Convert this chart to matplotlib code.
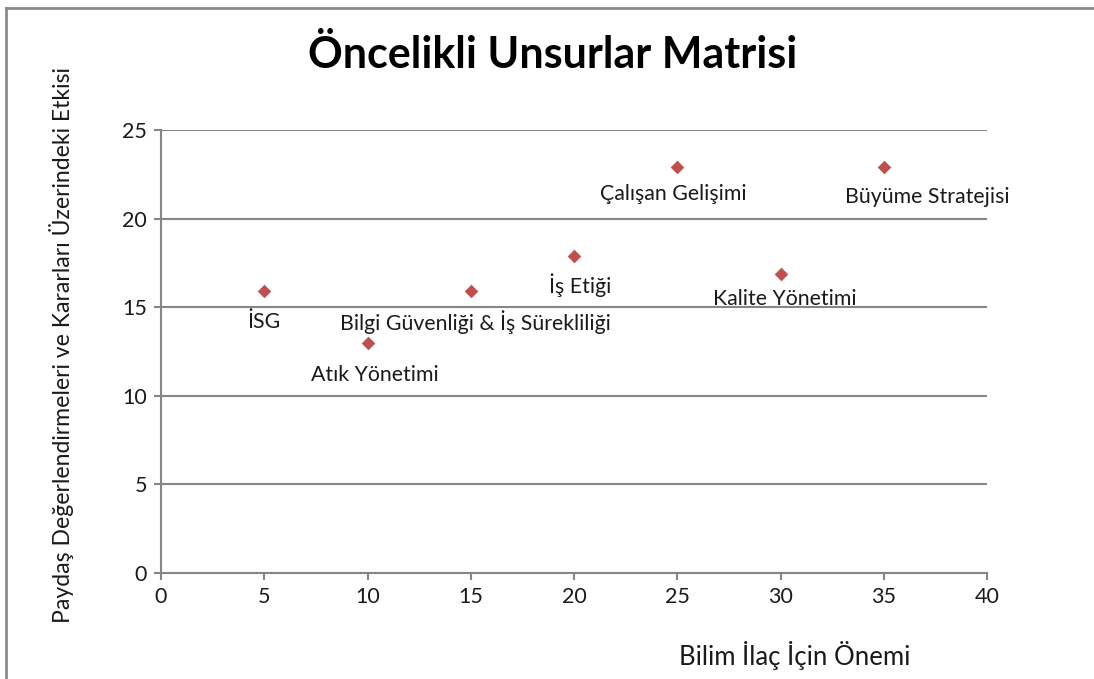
import matplotlib
matplotlib.use("Agg")
import matplotlib.pyplot as plt
from matplotlib.lines import Line2D
from matplotlib import font_manager

# Veriler
unsurlar = ["İSG", "Atık Yönetimi", "Bilgi Güvenliği & İş Sürekliliği", "İş Etiği",
            "Çalışan Gelişimi", "Büyüme Stratejisi", "Kalite Yönetimi"]
onem = [5, 10, 15, 20, 25, 35, 30]
etki = [15.9, 13, 15.9, 17.9, 22.9, 22.9, 16.9]

x_ticks = [0, 5, 10, 15, 20, 25, 30, 35, 40]
y_ticks = [0, 5, 10, 15, 20, 25]

baslik = "Öncelikli Unsurlar Matrisi"
x_etiket = "Bilim İlaç İçin Önemi"
y_etiket = "Paydaş Değerlendirmeleri ve Kararları Üzerindeki Etkisi"

# etiket kaydırmaları (piksel)
kaydirma = {
    "İSG": (0, -31),
    "Atık Yönetimi": (7, -32),
    "Bilgi Güvenliği & İş Sürekliliği": (5, -31),
    "İş Etiği": (6, -29),
    "Çalışan Gelişimi": (-4, -27),
    "Büyüme Stratejisi": (44, -30),
    "Kalite Yönetimi": (4, -25),
}

installed = {f.name for f in font_manager.fontManager.ttflist}
ana_font = "Lato" if "Lato" in installed else "DejaVu Sans"
plt.rcParams["font.family"] = [ana_font, "DejaVu Sans"]

gri = "#868686"
fig = plt.figure(figsize=(10.94, 6.79), dpi=100)
ax = fig.add_axes([161 / 1094, 1 - 573 / 679, (987 - 161) / 1094, (573 - 130) / 679])

ax.scatter(onem, etki, marker="D", s=48, color="#C0504D", zorder=3, linewidths=0)
for ad, x, y in zip(unsurlar, onem, etki):
    ax.annotate(ad, (x, y), xytext=kaydirma[ad], textcoords="offset pixels",
                ha="center", va="center", fontsize=15.3, color="#1a1a1a")

ax.set_xlim(0, 40)
ax.set_ylim(0, 25)
ax.set_xticks(x_ticks)
ax.set_yticks(y_ticks)
ax.tick_params(axis="both", direction="out", length=5, width=1.5, color=gri,
               labelsize=15.5, labelcolor="#1a1a1a", pad=5)
ax.yaxis.grid(True, color=gri, linewidth=1.5)
ax.set_axisbelow(True)
for s in ["top", "right"]:
    ax.spines[s].set_visible(False)
for s in ["left", "bottom"]:
    ax.spines[s].set_color(gri)
    ax.spines[s].set_linewidth(1.5)

fig.text(553 / 1094, 1 - 55 / 679, baslik, ha="center", va="center",
         fontsize=31, fontweight="bold", color="black")
fig.text(795 / 1094, 1 - 655 / 679, x_etiket, ha="center", va="center",
         fontsize=18.5, color="#1a1a1a")
fig.text(62 / 1094, 1 - 345 / 679, y_etiket, ha="center", va="center",
         rotation=90, fontsize=16.6, color="#1a1a1a")

# dış çerçeve (üst ve sol kenar)
cizgi = dict(transform=fig.transFigure, color="#8c8c8c", linewidth=2)
fig.lines.append(Line2D([6 / 1094, 1], [1 - 8 / 679, 1 - 8 / 679], **cizgi))
fig.lines.append(Line2D([6 / 1094, 6 / 1094], [0, 1 - 8 / 679], **cizgi))

fig.savefig("out.png", dpi=100)
